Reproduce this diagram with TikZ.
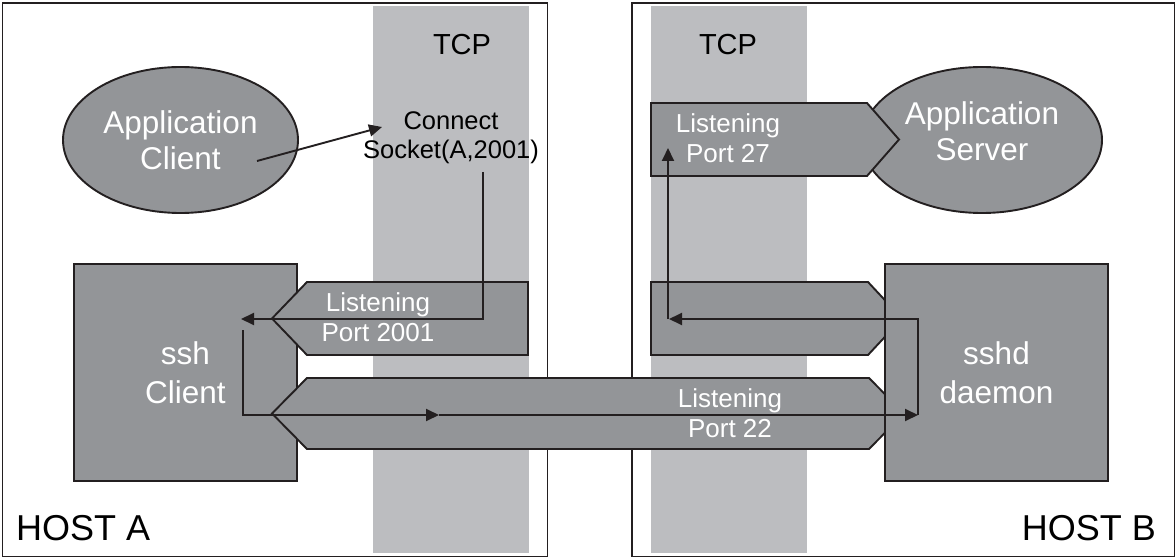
\documentclass[tikz,border=0pt]{standalone}
\usepackage{fontspec}
\setmainfont{Liberation Sans}
\usetikzlibrary{arrows.meta,shapes.geometric}
\definecolor{linegray}{RGB}{35,31,32}
\definecolor{boxgray}{RGB}{147,149,152}
\definecolor{tcpgray}{RGB}{188,189,192}
\tikzset{
  hostbox/.style={draw=linegray,line width=1.9pt,fill=white},
  tcpband/.style={fill=tcpgray},
  procbox/.style={draw=linegray,line width=1.9pt,fill=boxgray,minimum width=223pt,minimum height=217pt,inner sep=0pt,text=white,align=center,font=\fontsize{31.5}{39}\selectfont},
  appell/.style={ellipse,draw=linegray,line width=1.9pt,fill=boxgray,inner sep=0pt,text=white,align=center,font=\fontsize{31.5}{36}\selectfont},
  portshape/.style={draw=linegray,line width=1.9pt,fill=boxgray,line join=miter},
  porttext/.style={text=white,align=center,inner sep=0pt,font=\fontsize{26}{30}\selectfont},
  flow/.style={draw=linegray,line width=1.9pt,-{Triangle[length=13pt,width=12pt]}},
}
\begin{document}
\begin{tikzpicture}[x=1pt,y=-1pt]
\useasboundingbox (0,0) rectangle (1176,559);
% hosts and tcp layers
\draw[hostbox] (2.5,3) rectangle (547.5,556.5);
\draw[hostbox] (632,3) rectangle (1174.5,556.5);
\fill[tcpband] (373,6) rectangle (529,553);
\fill[tcpband] (651,6) rectangle (807,553);
\node[font=\fontsize{29}{30}\selectfont,inner sep=0pt] (tcpA) at (462,45) {TCP};
\node[font=\fontsize{29}{30}\selectfont,inner sep=0pt] (tcpB) at (728,45) {TCP};
\node[font=\fontsize{36}{40}\selectfont,inner sep=0pt,anchor=base west] (hostA) at (16,540) {HOST A};
\node[font=\fontsize{36}{40}\selectfont,inner sep=0pt,anchor=base east] (hostB) at (1156,540) {HOST B};
% host A
\node[appell,minimum width=235pt,minimum height=146pt] (appclient) at (180.5,140) {Application\\Client};
\node[font=\fontsize{25.5}{29}\selectfont,align=center,inner sep=0pt] (connect) at (451,138) {Connect\\Socket(A,2001)};
\node[procbox] (sshclient) at (185.5,372.5) {ssh\\Client};
\draw[portshape] (307,282) -- (528,282) -- (528,355) -- (307,355) -- (272,318.5) -- cycle;
\node[porttext] (port2001) at (378,317.5) {Listening\\Port 2001};
% tunnel
\draw[portshape] (272,413.5) -- (307,378) -- (869,378) -- (904,413.5) -- (869,449) -- (307,449) -- cycle;
\node[porttext] (port22) at (730,413) {Listening\\Port 22};
% host B
\node[appell,minimum width=240pt,minimum height=146pt,text depth=18pt] (appserver) at (982,140) {Application\\Server};
\draw[portshape] (651,103) -- (867,103) -- (899,139.5) -- (867,176) -- (651,176) -- cycle;
\node[porttext] (port27) at (728,138) {Listening\\Port 27};
\draw[portshape] (651,282) -- (868,282) -- (902,318.5) -- (868,355) -- (651,355) -- cycle;
\node[procbox] (sshd) at (996.5,372.5) {sshd\\daemon};
% flow of the connection
\coordinate (clientout) at (257,161);
\coordinate (connectin) at (382,127);
\coordinate (sockdown) at (483,172);
\coordinate (sockbend) at (483,319);
\coordinate (sshin) at (241,319);
\coordinate (sshout) at (243,330);
\coordinate (sshbend) at (243,415);
\coordinate (tunnelmid) at (439,415);
\coordinate (sshdin) at (918,415);
\coordinate (sshdbend) at (918,319);
\coordinate (fwdbend) at (668,319);
\coordinate (serverin) at (668,148);
\draw[flow] (clientout) -- (connectin);
\draw[flow] (sockdown) -- (sockbend) -- (sshin);
\draw[flow] (sshout) -- (sshbend) -- (tunnelmid);
\draw[flow] (tunnelmid) -- (sshdin);
\draw[flow] (sshdin) -- (sshdbend) -- ([xshift=1pt]fwdbend);
\draw[flow] (fwdbend) -- (serverin);
\end{tikzpicture}
\end{document}
